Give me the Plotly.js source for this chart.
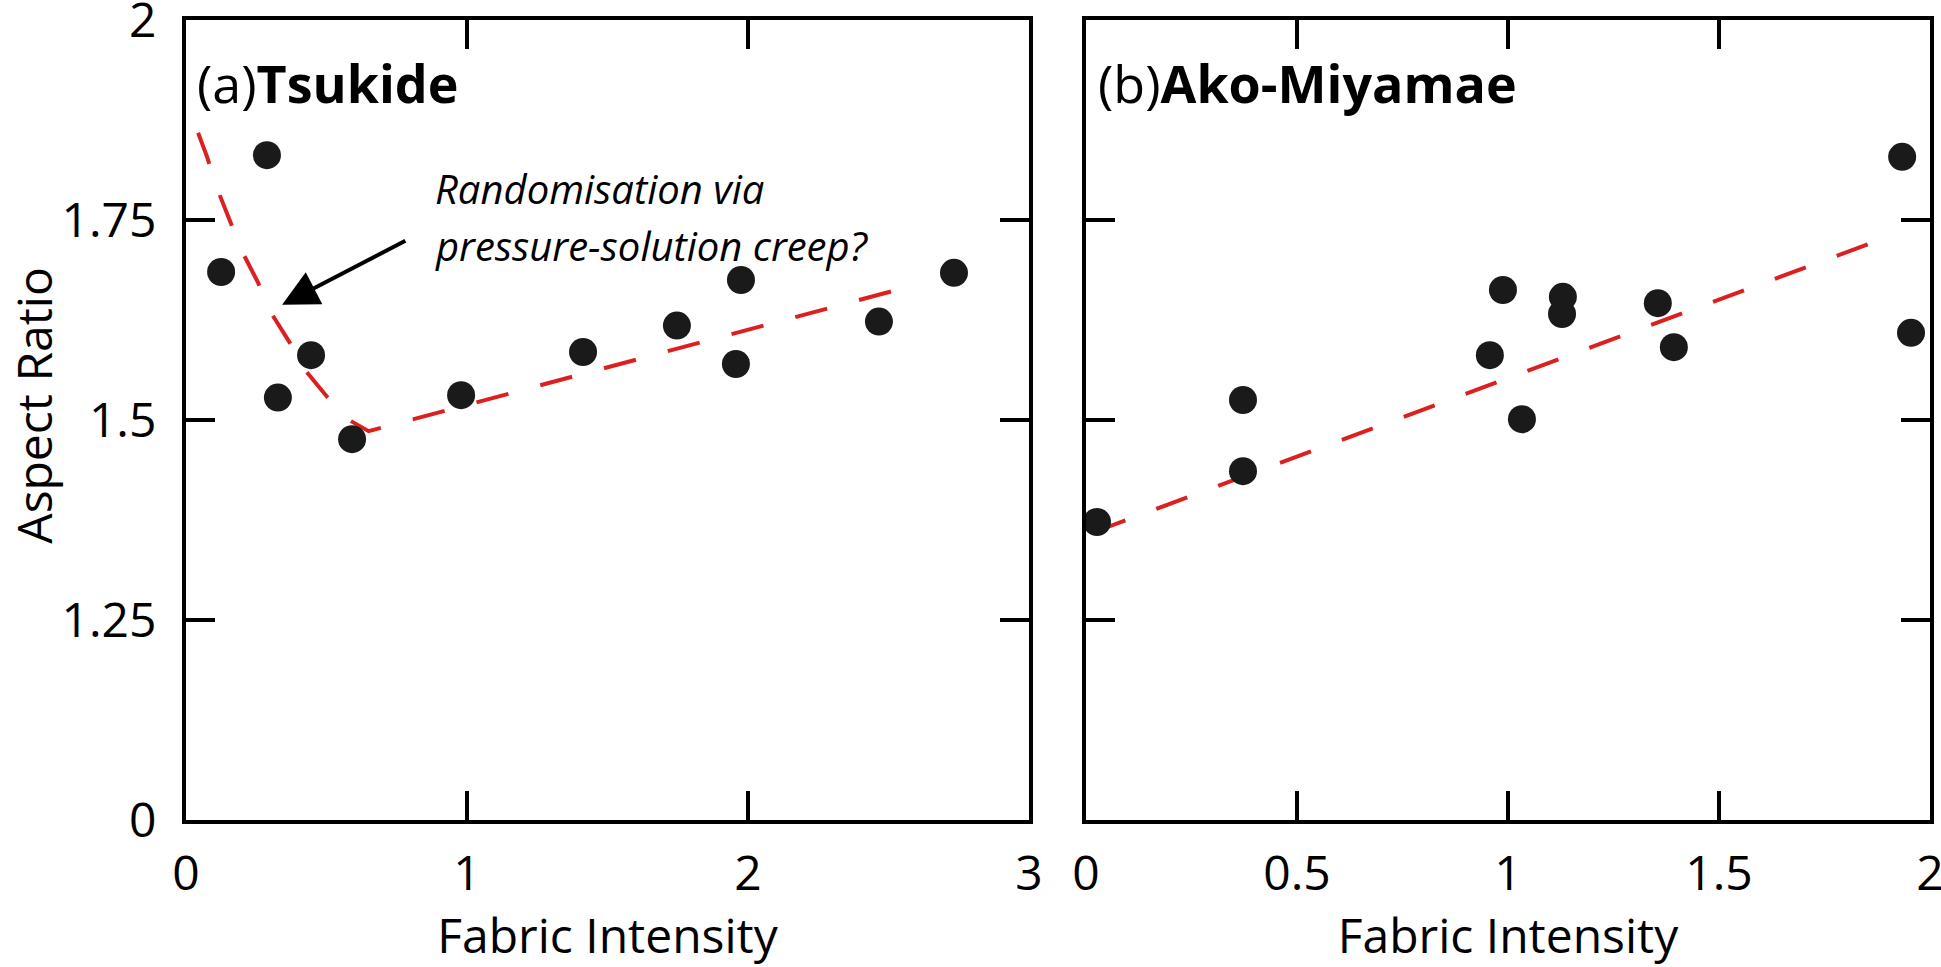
<!DOCTYPE html>
<html>
<head>
<meta charset="utf-8">
<script src="https://cdn.plot.ly/plotly-3.0.1.min.js"></script>
<style>
  html, body { margin: 0; padding: 0; background: #ffffff; }
  #chart { width: 1941px; height: 967px; }
</style>
</head>
<body>
<div id="chart"></div>
<script>
// ---- Data ----
// (a) Tsukide
const tsukideFabric = [0.125, 0.288, 0.327, 0.445, 0.591, 0.979, 1.413, 1.747, 1.975, 1.957, 2.466, 2.733];
const tsukideAspect = [1.685, 1.831, 1.528, 1.581, 1.476, 1.531, 1.585, 1.618, 1.675, 1.570, 1.623, 1.684];
// dashed trend for (a): steep fall then linear rise
const tsukideTrendX = [0.043, 0.075, 0.110, 0.157, 0.199, 0.256, 0.299, 0.367, 0.420, 0.502, 0.580, 0.650, 2.566];
const tsukideTrendY = [1.859, 1.829, 1.790, 1.750, 1.711, 1.672, 1.636, 1.598, 1.564, 1.529, 1.500, 1.486, 1.666];

// (b) Ako-Miyamae
const akoFabric = [0.026, 0.372, 0.372, 0.957, 0.988, 1.033, 1.128, 1.130, 1.355, 1.393, 1.934, 1.955];
const akoAspect = [1.3725, 1.525, 1.436, 1.581, 1.6625, 1.501, 1.6325, 1.654, 1.646, 1.591, 1.829, 1.609];
const akoTrendX = [0.02, 1.88];
const akoTrendY = [1.360, 1.725];

// Axis ticks
const yTickVals = [1, 1.25, 1.5, 1.75, 2];
const yTickText = ['0', '1.25', '1.5', '1.75', '2'];
const xaTickVals = [0, 1, 2, 3];
const xaTickText = ['0', '1', '2', '3'];
const xbTickVals = [0, 0.5, 1, 1.5, 2];
const xbTickText = ['0', '0.5', '1', '1.5', '2'];

// ---- Styling ----
const FONT = '"Open Sans", "Noto Sans", sans-serif';
const RED = '#dc1f1f';
const DOT = '#1a1a1a';

const traces = [
  { x: tsukideTrendX, y: tsukideTrendY, xaxis: 'x', yaxis: 'y', mode: 'lines',
    line: { color: RED, width: 4, dash: '33px,33px' }, hoverinfo: 'skip' },
  { x: tsukideFabric, y: tsukideAspect, xaxis: 'x', yaxis: 'y', mode: 'markers',
    marker: { color: DOT, size: 28 } },
  { x: akoTrendX, y: akoTrendY, xaxis: 'x2', yaxis: 'y2', mode: 'lines',
    line: { color: RED, width: 4, dash: '33px,33px' }, hoverinfo: 'skip' },
  { x: akoFabric, y: akoAspect, xaxis: 'x2', yaxis: 'y2', mode: 'markers',
    marker: { color: DOT, size: 28 } }
];

const axisCommon = {
  showline: true, linecolor: '#000', linewidth: 4, mirror: 'ticks',
  ticks: 'inside', ticklen: 29, tickwidth: 4, tickcolor: '#000',
  showgrid: false, zeroline: false, automargin: false,
  ticklabeloverflow: 'allow',
  tickfont: { family: FONT, size: 48, color: '#000' }
};

const layout = {
  width: 1941, height: 967,
  margin: { l: 186, r: 11, t: 20, b: 147 },
  paper_bgcolor: '#ffffff', plot_bgcolor: '#ffffff',
  showlegend: false,
  font: { family: FONT, color: '#000' },
  xaxis: Object.assign({}, axisCommon, {
    domain: [0, 0.48337], range: [0, 3], tickmode: 'array',
    tickvals: xaTickVals, ticktext: xaTickText, ticklabelstandoff: 8,
    title: { text: 'Fabric Intensity', font: { family: FONT, size: 48, color: '#000' }, standoff: 30 }
  }),
  yaxis: Object.assign({}, axisCommon, {
    domain: [0, 1], range: [1, 2], tickmode: 'array',
    tickvals: yTickVals, ticktext: yTickText, ticklabelstandoff: 16
  }),
  xaxis2: Object.assign({}, axisCommon, {
    domain: [0.51606, 1], range: [0, 2], tickmode: 'array', anchor: 'y2',
    tickvals: xbTickVals, ticktext: xbTickText, ticklabelstandoff: 8,
    title: { text: 'Fabric Intensity', font: { family: FONT, size: 48, color: '#000' }, standoff: 30 }
  }),
  yaxis2: Object.assign({}, axisCommon, {
    domain: [0, 1], range: [1, 2], tickmode: 'array', anchor: 'x2',
    tickvals: yTickVals, ticktext: yTickText, showticklabels: false
  }),
  annotations: [
    { xref: 'paper', yref: 'paper', x: -0.0872, y: 0.519, xanchor: 'center', yanchor: 'middle',
      text: 'Aspect Ratio', textangle: -90, showarrow: false,
      font: { family: FONT, size: 48, color: '#000' } },
    { xref: 'x', yref: 'y', x: 0.032, y: 1.922, xanchor: 'left', yanchor: 'middle',
      text: '(a)<b>Tsukide</b>', showarrow: false,
      font: { family: FONT, size: 52, color: '#000' } },
    { xref: 'x2', yref: 'y2', x: 0.024, y: 1.922, xanchor: 'left', yanchor: 'middle',
      text: '(b)<b>Ako-Miyamae</b>', showarrow: false,
      font: { family: FONT, size: 52, color: '#000' } },
    { xref: 'x', yref: 'y', x: 0.879, y: 1.789, xanchor: 'left', yanchor: 'middle', align: 'left',
      text: '<i>Randomisation via</i>', showarrow: false,
      font: { family: FONT, size: 40, color: '#000' } },
    { xref: 'x', yref: 'y', x: 0.879, y: 1.718, xanchor: 'left', yanchor: 'middle', align: 'left',
      text: '<i>pressure-solution creep?</i>', showarrow: false,
      font: { family: FONT, size: 40, color: '#000' } },
    { xref: 'x', yref: 'y', x: 0.342, y: 1.644, axref: 'x', ayref: 'y', ax: 0.786, ay: 1.725,
      text: '', showarrow: true, arrowhead: 2, arrowsize: 1.8, arrowwidth: 4, arrowcolor: '#000', standoff: 0 }
  ]
};

Plotly.newPlot('chart', traces, layout, { staticPlot: true, displayModeBar: false });
</script>
</body>
</html>
